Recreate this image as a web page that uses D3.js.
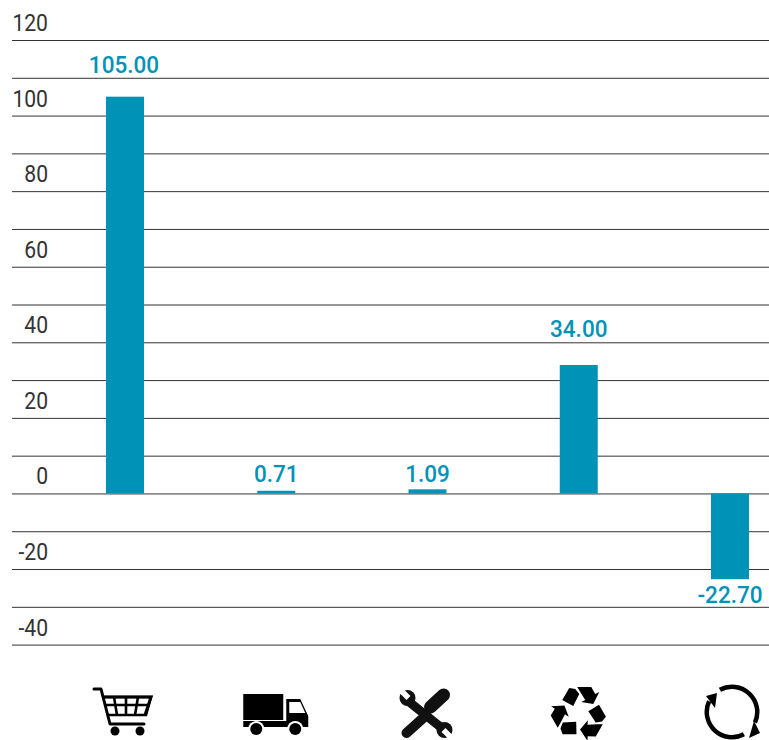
<!DOCTYPE html>
<html><head><meta charset="utf-8">
<script src="https://cdn.jsdelivr.net/npm/d3@7"></script>
<style>html,body{margin:0;padding:0;background:#fff}svg{display:block}</style>
</head><body><div id="c"></div>
<script>
const categories = ["Shopping","Transport","Repair","Recycling","Circular"];
const values = [105.00,0.71,1.09,34.00,-22.70];
const valueLabels = ["105.00","0.71","1.09","34.00","-22.70"];
const gridTicks = [120,110,100,90,80,70,60,50,40,30,20,10,0,-10,-20,-30,-40];
const labelTicks = [120,100,80,60,40,20,0,-20,-40];

const W=769,H=740, blue="#0093b7", ink="#333";
const labelGap=[24,0,0,28,0]; // label baseline distance above a bar top
const svg=d3.select("#c").append("svg").attr("width",W).attr("height",H);
const y=d3.scaleLinear().domain([120,-40]).range([40,644.6]);
const x=d3.scalePoint().domain(categories).range([125,730]);

// gridlines and tick labels
const axis=svg.append("g").attr("transform","translate(12,0)")
  .call(d3.axisLeft(y).tickValues(gridTicks).tickSize(-757)
    .tickFormat(d=>labelTicks.includes(d)?String(d):""));
axis.select(".domain").remove();
axis.selectAll(".tick line").attr("stroke",ink).attr("stroke-width",1);
axis.selectAll(".tick text")
  .attr("x",0).attr("dy",0).attr("text-anchor","end")
  .attr("transform","translate(36,-9.5) scale(.88,1)")
  .attr("fill",ink).attr("font-family","Roboto").attr("font-weight",400).attr("font-size",24);

// bars
svg.selectAll("rect.bar").data(values).join("rect").attr("class","bar")
  .attr("x",(d,i)=>x(categories[i])-19).attr("width",38)
  .attr("y",d=>y(Math.max(0,d))).attr("height",d=>Math.abs(y(d)-y(0)))
  .attr("fill",blue);

// value labels
const labelBase=(d,i)=>d<0?y(d)+24:(d<5?y(0)-11:y(d)-labelGap[i]);
svg.selectAll("text.val").data(values).join("text").attr("class","val")
  .attr("transform",(d,i)=>`translate(${x(categories[i])-(i==0?1:0)},${labelBase(d,i)}) scale(.92,1)`)
  .attr("text-anchor","middle").attr("fill",blue)
  .attr("font-family","Roboto").attr("font-weight",500).attr("font-size",24.5)
  .text((d,i)=>valueLabels[i]);

// category pictograms, drawn around each category's position
const icons=svg.selectAll("g.icon").data(categories).join("g").attr("class","icon")
  .attr("transform",d=>`translate(${x(d)},712)`);

// cart
const cart=d3.select(icons.nodes()[0]).attr("fill","none").attr("stroke","#000");
cart.append("path").attr("stroke-width",3).attr("stroke-linejoin","round").attr("stroke-linecap","round")
  .attr("d","M-31,-23H-24L-15,12H19");
cart.append("path").attr("stroke-width",2.6)
  .attr("d","M-22,-15H26L21,3H-17 M-19,-7H24 M-11,-15L-8,3 M1,-15V3 M13,-15L10,3");
cart.append("path").attr("stroke-width",3).attr("d","M-22,-15H26L20,3");
cart.append("circle").attr("cx",-10).attr("cy",19).attr("r",4.5).attr("fill","#000").attr("stroke","none");
cart.append("circle").attr("cx",15).attr("cy",19).attr("r",4.5).attr("fill","#000").attr("stroke","none");

// truck
const truck=d3.select(icons.nodes()[1]);
truck.append("path").attr("d","M-33,-18H7V8H-33Z M10,-13H24L32,4V15H-33V9H10Z").attr("fill","#000");
truck.append("path").attr("d","M13,-10H24L29,1H13Z").attr("fill","#fff");
[[-20],[19]].forEach(([cx])=>{
  truck.append("circle").attr("cx",cx).attr("cy",17).attr("r",8).attr("fill","#fff");
  truck.append("circle").attr("cx",cx).attr("cy",17).attr("r",6).attr("fill","#000");
});

// tools
const tools=d3.select(icons.nodes()[2]).attr("fill","none").attr("stroke","#111");
tools.append("path").attr("stroke-width",9).attr("d","M-22,-13L18,19");
tools.append("circle").attr("cx",-20).attr("cy",-14).attr("r",8).attr("fill","#111").attr("stroke","none");
tools.append("circle").attr("cx",17).attr("cy",18).attr("r",8).attr("fill","#111").attr("stroke","none");
tools.append("path").attr("stroke","#fff").attr("stroke-width",5.5).attr("d","M-29,-24L-19,-14 M25,27L16,18");
tools.append("path").attr("stroke-width",10).attr("stroke-linecap","round").attr("d","M-1,3L-21,21");
tools.append("path").attr("stroke","#fff").attr("stroke-width",2).attr("d","M-6,-9L18,9");
tools.append("path").attr("stroke-width",13).attr("stroke-linecap","round").attr("d","M3,-5L16,-17");

// recycle
const rec=d3.select(icons.nodes()[3]).append("g").attr("transform","translate(0.5,1)");
[0,120,240].forEach(a=>{
  rec.append("path").attr("transform",`rotate(${a})`).attr("fill","#000")
    .attr("d","M-17,-13L-10,-25L-4,-24L0,-19L-6,-7Z M-2,-26H12L16,-19L20,-21L14,-9L2,-11L6,-13L1,-21Z");
});

// cycle
const cyc=d3.select(icons.nodes()[4]).attr("transform",d=>`translate(${x(d)+2},712)`);
const arc=d3.arc().innerRadius(23).outerRadius(27.5);
cyc.append("path").attr("d",arc({startAngle:-0.5,endAngle:2.0})).attr("fill","#000");
cyc.append("path").attr("d",arc({startAngle:2.65,endAngle:5.15})).attr("fill","#000");
cyc.append("path").attr("d","M28,21L17,26L22,9Z").attr("fill","#000");
cyc.append("path").attr("d","M-26,-16L-15,-19L-17,-4Z").attr("fill","#000");
</script></body></html>
